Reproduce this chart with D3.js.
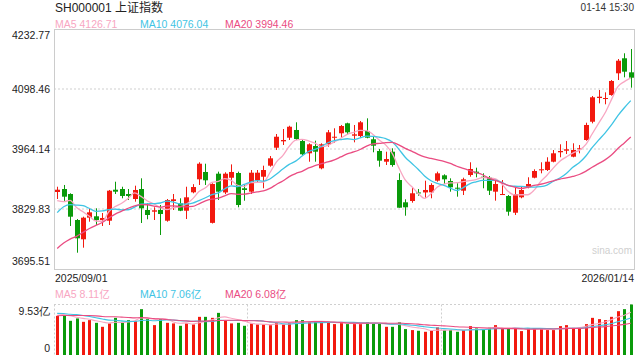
<!DOCTYPE html>
<html><head><meta charset="utf-8">
<script src="https://cdn.jsdelivr.net/npm/d3@7"></script>
<style>
body{margin:0;background:#fff}
svg{display:block;font-family:Arial,"Liberation Sans","Noto Sans CJK SC",sans-serif}
</style>
</head><body>
<svg id="c" width="640" height="360"></svg>
<script>
// ---------- data ----------
const dates = [
 "2025/09/01","09/02","09/03","09/04","09/05","09/08","09/09","09/10","09/11","09/12",
 "09/15","09/16","09/17","09/18","09/19","09/22","09/23","09/24","09/25","09/26",
 "09/29","09/30","10/09","10/10","10/13","10/14","10/15","10/16","10/17","10/20",
 "10/21","10/22","10/23","10/24","10/27","10/28","10/29","10/30","10/31","11/03",
 "11/04","11/05","11/06","11/07","11/10","11/11","11/12","11/13","11/14","11/17",
 "11/18","11/19","11/20","11/21","11/24","11/25","11/26","11/27","11/28","12/01",
 "12/02","12/03","12/04","12/05","12/08","12/09","12/10","12/11","12/12","12/15",
 "12/16","12/17","12/18","12/19","12/22","12/23","12/24","12/25","12/26","12/29",
 "12/30","12/31","01/05","01/06","01/07","01/08","01/09","01/12","01/13","2026/01/14"];

const open = [3867.9,3874.6,3863.4,3805.2,3762.0,3810.4,3813.5,3805.2,3803.6,3873.0,
 3874.6,3863.4,3852.2,3874.6,3827.6,3823.8,3827.6,3803.6,3847.7,3842.6,
 3826.0,3867.2,3896.3,3912.7,3798.8,3908.9,3866.9,3899.8,3910.4,3876.2,
 3868.6,3894.7,3902.1,3926.8,3967.0,3981.3,3989.4,4006.7,3982.0,3954.5,
 3970.9,3920.9,3974.7,3989.4,3999.3,4021.7,3993.9,3993.2,4004.4,3985.9,
 3959.7,3935.7,3958.1,3894.7,3844.8,3847.7,3866.9,3866.9,3867.2,3893.2,
 3905.2,3892.5,3877.5,3870.8,3905.9,3913.4,3902.1,3899.9,3868.6,3861.1,
 3858.9,3821.5,3856.0,3878.4,3899.9,3916.4,3917.1,3935.7,3956.8,3960.3,
 3946.9,3963.5,3984.3,4025.2,4078.3,4076.1,4085.0,4133.6,4167.2,4135.8];

const high = [3879.7,3883.6,3865.0,3807.4,3812.6,3832.1,3831.4,3820.9,3872.4,3890.9,
 3879.7,3874.6,3882.0,3898.5,3842.6,3833.7,3838.8,3852.2,3863.4,3853.8,
 3879.7,3885.4,3934.4,3931.2,3887.4,3913.4,3912.0,3929.7,3913.4,3883.6,
 3917.1,3917.1,3926.8,3948.4,3997.7,4008.9,4016.2,4023.9,3984.3,3976.9,
 3982.8,3976.9,4006.7,4010.5,4017.9,4023.0,4017.9,4026.8,4032.8,3991.6,
 3964.1,3958.1,3965.7,3909.7,3851.5,3878.4,3874.6,3893.2,3887.4,3913.4,
 3907.5,3898.5,3887.4,3899.9,3934.4,3922.3,3909.7,3903.7,3894.7,3894.7,
 3861.1,3879.7,3879.7,3900.8,3918.7,3934.4,3945.6,3961.9,3974.7,3982.0,
 3976.9,3973.1,4023.0,4082.8,4096.2,4091.0,4118.6,4165.6,4178.4,4188.0];

const low = [3852.2,3846.2,3791.8,3732.0,3743.2,3801.4,3794.0,3791.8,3794.0,3863.4,
 3853.8,3850.0,3846.2,3798.5,3806.8,3805.2,3771.6,3801.4,3827.6,3825.0,
 3807.4,3865.0,3883.6,3883.6,3797.4,3850.0,3863.4,3883.6,3833.6,3848.4,
 3863.4,3889.6,3876.2,3924.5,3961.9,3973.1,3984.3,3984.3,3949.1,3935.7,
 3935.7,3918.7,3969.3,3978.2,3989.4,3995.5,3979.1,3989.4,3988.1,3956.8,
 3924.5,3928.3,3924.5,3832.7,3814.8,3843.9,3859.6,3855.1,3853.8,3890.9,
 3885.8,3868.6,3857.4,3861.1,3902.1,3900.8,3876.2,3861.1,3848.4,3861.1,
 3814.8,3816.4,3853.8,3876.2,3898.5,3909.7,3914.9,3934.3,3945.6,3952.9,
 3945.6,3954.5,3982.7,4021.6,4066.4,4064.2,4083.4,4118.6,4124.6,4101.4];

const close = [3873.0,3857.4,3812.6,3764.2,3810.4,3822.4,3805.2,3809.7,3870.8,3868.6,
 3859.0,3859.0,3872.4,3831.4,3816.4,3826.9,3818.6,3850.0,3851.5,3826.0,
 3856.0,3879.0,3931.2,3894.1,3885.8,3868.6,3908.9,3912.7,3838.8,3872.4,
 3911.1,3911.1,3917.1,3943.3,3991.6,3984.3,4014.0,3986.5,3952.3,3974.7,
 3958.1,3974.7,4001.5,3991.6,4015.6,4001.5,3997.0,4023.9,3989.4,3971.5,
 3938.0,3941.7,3928.3,3832.7,3833.6,3865.0,3865.0,3872.4,3883.6,3909.7,
 3896.3,3878.4,3875.3,3896.3,3919.4,3909.7,3899.9,3870.8,3885.8,3863.4,
 3823.8,3863.4,3872.4,3885.8,3914.9,3918.7,3935.7,3954.5,3959.7,3963.5,
 3961.9,3965.7,4017.9,4079.9,4081.2,4078.3,4116.4,4161.8,4137.2,4123.7];

// volume, 亿
const volume = [7.39,7.52,6.45,6.90,6.26,6.58,6.07,5.32,5.96,7.01,
 6.26,6.58,6.39,8.65,6.77,5.64,6.77,6.07,5.96,5.51,
 5.96,5.77,7.20,7.20,7.01,7.95,6.58,5.96,6.07,5.51,
 5.96,5.77,5.77,5.64,6.07,5.77,6.07,6.58,6.58,6.26,
 6.26,6.15,6.15,5.83,6.15,5.83,5.83,5.96,6.15,5.96,
 5.96,5.32,5.32,6.15,4.89,4.70,4.57,4.38,4.57,5.21,
 4.70,4.70,4.38,4.70,5.45,5.02,4.83,5.13,5.64,5.02,
 5.02,5.02,4.51,5.02,5.02,5.02,4.70,4.70,5.45,5.64,
 5.13,5.02,5.83,7.01,6.77,6.58,7.20,8.27,8.65,9.53];

// 19 sessions before the window (estimated so the MA lines start where the picture shows them)
const prevClose = [3618,3634,3640,3635,3648,3666,3683,3666,3697,3728,3727,3766,3771,3826,3884,3868,3800,3844,3858];
const prevVolume = [6.2,6.5,6.8,6.4,6.9,7.2,7.6,7.0,7.3,7.5,7.8,8.0,7.4,7.9,8.6,8.3,7.6,8.2,7.4];

const priceTicks = [4232.77, 4098.46, 3964.14, 3829.83, 3695.51];
const volumeMax = 9.53;
const title = "SH000001 上证指数";
const timeLabel = "01-14 15:30";
const maLegend = [["MA5","4126.71"],["MA10","4076.04"],["MA20","3994.46"]];
const volLegend = [["MA5","8.11亿"],["MA10","7.06亿"],["MA20","6.08亿"]];

// ---------- layout ----------
const L = 54, R = 634, T = 29, B = 269;
const VT = 304.5, VB = 355;
const UP = "#f2190f", DOWN = "#0a9a0a";
const maColors = ["#f8a6c2", "#3fc4e4", "#ea4c82"];
const legendX = [55, 140, 225];

const svg = d3.select("#c");
const n = close.length;
const idx = d3.range(n);

const x = d3.scaleBand().domain(idx).range([L, R]).paddingInner(0.22).paddingOuter(0.11);
const xv = d3.scaleBand().domain(idx).range([L, R]).paddingInner(0.48).paddingOuter(0.24);
const cx = i => x(i) + x.bandwidth() / 2;
const y = d3.scaleLinear().domain([priceTicks[4], priceTicks[0]]).range([B, T]);
const yv = d3.scaleLinear().domain([0, volumeMax]).range([VB, VT]);

const ma = (prev, arr, k) => {
  const all = prev.concat(arr), off = prev.length;
  return arr.map((_, i) => d3.mean(all.slice(off + i - k + 1, off + i + 1)));
};

// ---------- header ----------
svg.append("text").attr("x", 55).attr("y", 11.5).attr("font-size", 12).attr("fill", "#222").text(title);
svg.append("text").attr("x", 634).attr("y", 10.7).attr("font-size", 10).attr("text-anchor", "end").attr("fill", "#333").text(timeLabel);
svg.selectAll("text.leg").data(maLegend).join("text").attr("class", "leg")
  .attr("x", (d, i) => legendX[i]).attr("y", 27.7).attr("font-size", 10.5)
  .attr("fill", (d, i) => maColors[i]).text(d => d[0] + " " + d[1]);

// ---------- main plot ----------
const gridVals = priceTicks.slice(1, 4);
svg.append("g").selectAll("line").data(gridVals).join("line")
  .attr("x1", L).attr("x2", R).attr("y1", d => Math.round(y(d))).attr("y2", d => Math.round(y(d)))
  .attr("stroke", "#cfcfcf").attr("stroke-width", 1).attr("stroke-dasharray", "2,2");

svg.append("rect").attr("x", L + 0.5).attr("y", T + 0.5).attr("width", R - L).attr("height", B - T)
  .attr("fill", "none").attr("stroke", "#cccccc");

// y axis labels
const yAxis = d3.axisLeft(y).tickValues(priceTicks).tickSize(0).tickPadding(0).tickFormat(d3.format(".2f"));
const ya = svg.append("g").attr("transform", `translate(${L - 4},0)`).call(yAxis);
ya.select(".domain").remove();
ya.selectAll("text").attr("font-size", 10.5).attr("font-family", "Arial,'Liberation Sans',sans-serif").attr("fill", "#222")
  .attr("dy", (d, i) => i === 0 ? "0.95em" : (i === 4 ? "-0.45em" : "0.32em"));

// x labels
svg.append("text").attr("x", 55).attr("y", 281.7).attr("font-size", 10.5).attr("fill", "#222").text(dates[0]);
svg.append("text").attr("x", 634).attr("y", 281.7).attr("font-size", 10.5).attr("fill", "#222").attr("text-anchor", "end").text(dates[n - 1]);

// watermark
svg.append("text").attr("x", 632).attr("y", 254).attr("font-size", 10).attr("text-anchor", "end").attr("fill", "#cfcfcf").text("sina.com");

// candles
const col = i => close[i] >= open[i] ? UP : DOWN;
const cg = svg.append("g");
cg.selectAll("line").data(idx).join("line")
  .attr("x1", i => Math.round(cx(i)) + 0.5).attr("x2", i => Math.round(cx(i)) + 0.5)
  .attr("y1", i => y(high[i])).attr("y2", i => y(low[i]))
  .attr("stroke", col).attr("stroke-width", 1);
cg.selectAll("rect").data(idx).join("rect")
  .attr("x", i => Math.round(cx(i)) + 0.5 - 2.5).attr("width", 5)
  .attr("y", i => y(Math.max(open[i], close[i])))
  .attr("height", i => Math.max(1, Math.abs(y(open[i]) - y(close[i]))))
  .attr("fill", col);

// MA lines
const line = d3.line().x((d, i) => cx(i)).y(d => y(d)).curve(d3.curveMonotoneX);
[5, 10, 20].forEach((k, j) => {
  svg.append("path").datum(ma(prevClose, close, k)).attr("d", line)
    .attr("fill", "none").attr("stroke", maColors[j]).attr("stroke-width", 1.3);
});

// ---------- volume ----------
svg.selectAll("text.vleg").data(volLegend).join("text").attr("class", "vleg")
  .attr("x", (d, i) => legendX[i]).attr("y", 298.3).attr("font-size", 10.5)
  .attr("fill", (d, i) => maColors[i]).text(d => d[0] + " " + d[1]);

const vg = svg.append("g");
vg.append("line").attr("x1", L).attr("x2", R).attr("y1", Math.floor(VT) + 0.5).attr("y2", Math.floor(VT) + 0.5)
  .attr("stroke", "#cfcfcf").attr("stroke-dasharray", "2,2");
[30, 60].forEach(k => {
  const xx = Math.round(x(k) - x.step() * x.paddingInner() / 2) + 0.5;
  vg.append("line").attr("x1", xx).attr("x2", xx).attr("y1", VT).attr("y2", VB)
    .attr("stroke", "#cfcfcf").attr("stroke-dasharray", "2,2");
});
vg.append("line").attr("x1", L + 0.5).attr("x2", L + 0.5).attr("y1", VT).attr("y2", VB)
  .attr("stroke", "#cfcfcf").attr("stroke-dasharray", "2,2");

const yvAxis = d3.axisLeft(yv).tickValues([volumeMax, 0]).tickSize(0).tickPadding(0)
  .tickFormat(d => d === 0 ? "0" : d3.format(".2f")(d) + "亿");
const yva = svg.append("g").attr("transform", `translate(${L - 4},0)`).call(yvAxis);
yva.select(".domain").remove();
yva.selectAll("text").attr("font-size", 10.5).attr("fill", "#222")
  .attr("dy", (d, i) => d === 0 ? "-0.3em" : "0.95em");

vg.selectAll("rect").data(idx).join("rect")
  .attr("x", i => Math.round(cx(i)) + 0.5 - 1.5).attr("width", 3)
  .attr("y", i => yv(volume[i])).attr("height", i => VB - yv(volume[i]))
  .attr("fill", col);

const vline = d3.line().x((d, i) => cx(i)).y(d => yv(d)).curve(d3.curveMonotoneX);
[5, 10, 20].forEach((k, j) => {
  svg.append("path").datum(ma(prevVolume, volume, k)).attr("d", vline)
    .attr("fill", "none").attr("stroke", maColors[j]).attr("stroke-width", 1.1);
});
</script>
</body></html>
